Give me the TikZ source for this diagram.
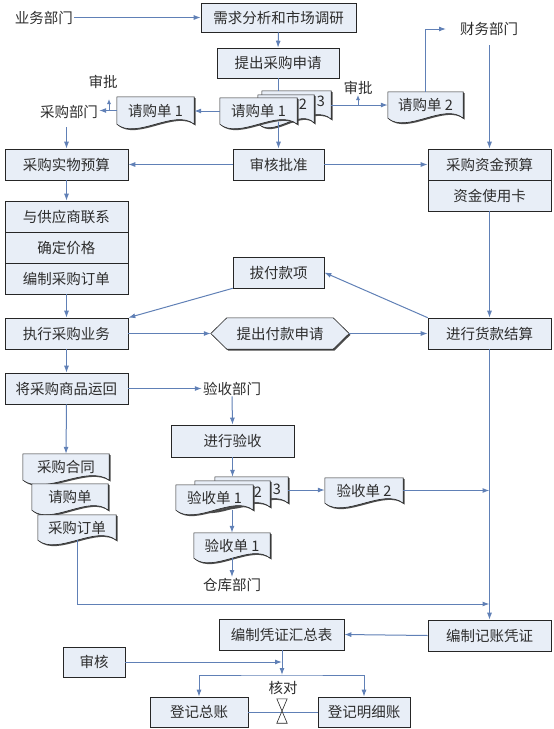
\documentclass[tikz,border=0pt]{standalone}
\usepackage{fontspec}
\setmainfont{Noto Sans CJK SC}
\usetikzlibrary{arrows.meta,shadows,calc}
\pgfdeclarelayer{bg}
\pgfsetlayers{bg,main}
\definecolor{boxfill}{RGB}{232,238,247}
\definecolor{lc}{RGB}{96,128,182}
\definecolor{txt}{RGB}{45,45,45}
\tikzset{
 every node/.style={font=\fontsize{14.5}{17}\selectfont, text=txt},
 shad/.style={drop shadow={shadow xshift=1.3pt,shadow yshift=-1.3pt,opacity=1,fill=black!70}},
 box/.style={draw=black!85, line width=0.6pt, fill=boxfill, inner sep=0pt, shad},
 docbox/.style={inner sep=0pt, draw=none},
 docpath/.style={draw=black!85, line width=0.6pt, fill=boxfill, shad},
 lbl/.style={inner sep=1pt},
 ln/.style={draw=lc, line width=1pt},
 arr/.style={ln, -{Latex[length=7pt,width=5pt]}},
 arrs/.style={ln, -{Latex[length=5pt,width=4pt]}},
}
\newcommand\mydoc[1]{\path[docpath] (#1.north west) -- (#1.south west) .. controls ($(#1.south west)!0.5!(#1.south)+(0,16)$) and ($(#1.south)!0.5!(#1.south east)+(0,-16)$) .. (#1.south east) -- (#1.north east) -- cycle;}
\begin{document}
\begin{tikzpicture}[x=1pt,y=-1pt]
\useasboundingbox (0,0) rectangle (554,729);
% boxes and labels
\node[box, minimum width=155, minimum height=29] (xq) at (278.5,17.5) {需求分析和市场调研};
\node[lbl] (yw) at (44,17.5) {业务部门};
\node[box, minimum width=122, minimum height=30] (tc) at (278,63) {提出采购申请};
\node[docbox, minimum width=69, minimum height=28] (rq3) at (296.5,105) {};
\node[docbox, minimum width=56, minimum height=28] (rq2) at (286,109) {};
\node[docbox, minimum width=77, minimum height=26] (rq1) at (258.5,111) {请购单 1};
\node[lbl] (n2a) at (303,104) {2};
\node[lbl] (n3a) at (321,101) {3};
\node[docbox, minimum width=77, minimum height=27] (rqL) at (155.5,110.5) {请购单 1};
\node[lbl] (cgbm) at (69,112) {采购部门};
\node[lbl] (sp1) at (103,82) {审批};
\node[docbox, minimum width=75, minimum height=26] (rqR) at (425.5,105) {请购单 2};
\node[lbl] (sp2) at (358,88) {审批};
\node[lbl] (cw) at (489,29) {财务部门};
\node[box, minimum width=91, minimum height=31] (shpz) at (278.5,164.5) {审核批准};
\node[box, minimum width=123, minimum height=31] (swys) at (66.5,164.5) {采购实物预算};
\node[box, minimum width=123, minimum height=31] (zjys) at (489.5,164.5) {采购资金预算};
\node[box, minimum width=123, minimum height=31] (zjk) at (489.5,195.5) {资金使用卡};
\node[box, minimum width=123, minimum height=31] (lx) at (66.5,216.5) {与供应商联系};
\node[box, minimum width=123, minimum height=31] (qd) at (66.5,247.5) {确定价格};
\node[box, minimum width=123, minimum height=31] (bz) at (66.5,278.5) {编制采购订单};
\node[box, minimum width=91, minimum height=31] (bf) at (278.5,272.5) {拔付款项};
\node[box, minimum width=123, minimum height=31] (zx) at (66.5,333.5) {执行采购业务};
\node[docbox, minimum width=138, minimum height=31] (pay) at (280,333.5) {提出付款申请};
\node[box, minimum width=123, minimum height=31] (js) at (489.5,333.5) {进行货款结算};
\node[box, minimum width=123, minimum height=31] (yh) at (66.5,388.5) {将采购商品运回};
\node[lbl] (ysbm) at (232,388.5) {验收部门};
\node[box, minimum width=123, minimum height=32] (ys) at (232.5,441) {进行验收};
\node[docbox, minimum width=86, minimum height=26] (ht) at (66,467) {采购合同};
\node[docbox, minimum width=76, minimum height=26] (qg) at (70,497) {请购单};
\node[docbox, minimum width=78, minimum height=25] (dd) at (77,527.5) {采购订单};
\node[docbox, minimum width=73, minimum height=26] (ys3) at (251.5,490) {};
\node[docbox, minimum width=75, minimum height=26] (ys2) at (232.5,494) {};
\node[docbox, minimum width=77, minimum height=25] (ys1) at (214.5,497.5) {验收单 1};
\node[lbl] (n2b) at (258,492) {2};
\node[lbl] (n3b) at (277,489) {3};
\node[docbox, minimum width=76, minimum height=25] (ysd1) at (232,545.5) {验收单 1};
\node[lbl] (ck) at (232,585) {仓库部门};
\node[docbox, minimum width=78, minimum height=25] (ysd2) at (364,490.5) {验收单 2};
\node[box, minimum width=123, minimum height=31] (jzpz) at (489.5,635.5) {编制记账凭证};
\node[box, minimum width=125, minimum height=31] (hzb) at (281.5,634.5) {编制凭证汇总表};
\node[box, minimum width=62, minimum height=30] (sh) at (94,662) {审核};
\node[box, minimum width=98, minimum height=30] (zz) at (199,712) {登记总账};
\node[box, minimum width=92, minimum height=30] (mx) at (364,712) {登记明细账};
\node[lbl] (hd) at (283,688) {核对};
\node[docbox, minimum width=10, minimum height=24] (hg) at (282,711) {};
% document shapes
\begin{pgfonlayer}{bg}
\mydoc{rq3}\mydoc{rq2}\mydoc{rq1}\mydoc{rqL}\mydoc{rqR}
\mydoc{ht}\mydoc{qg}\mydoc{dd}
\mydoc{ys3}\mydoc{ys2}\mydoc{ys1}\mydoc{ysd1}\mydoc{ysd2}
\path[docpath] (pay.west) -- ($(pay.north west)+(16,0)$) -- ($(pay.north east)+(-16,0)$) -- (pay.east) -- ($(pay.south east)+(-16,0)$) -- ($(pay.south west)+(16,0)$) -- cycle;
\end{pgfonlayer}
% connectors
\coordinate (u1) at (109,99);
\coordinate (u2) at (358,95);
\coordinate (cwp) at (446,29);
\coordinate (cwb) at (489.5,45);
\coordinate (cgb) at (66.5,127);
\coordinate (m1) at (489.5,604);
\coordinate (j) at (282,675);
\draw[arr] (yw.east) -- (xq.west);
\draw[arr] (xq.south) -- (tc.north);
\draw[ln] (tc.south) -- (tc.south |- rq3.north);
\draw[arr] (rq1.west) -- (rq1.west -| rqL.east);
\draw[arr] (rqL.west) -- (rqL.west -| cgbm.east);
\draw[arrs] (u1 |- rqL.west) -- (u1);
\draw[arr] (rq3.east) -- (rq3.east -| rqR.west);
\draw[arrs] (u2 |- rq3.east) -- (u2);
\draw[arr] (rqR.north) |- (cwp);
\draw[arr] (cwb) -- (zjys.north);
\draw[arr] (shpz.west) -- (swys.east);
\draw[arr] (shpz.east) -- (zjys.west);
\draw[arr] ($(rq1.south -| shpz.north)+(0,-2)$) -- (shpz.north);
\draw[arr] (cgb) -- (swys.north);
\draw[arr] (swys.south) -- (lx.north);
\draw[arr] (bz.south) -- (zx.north);
\draw[arr] (zx.east) -- (pay.west);
\draw[arr] (pay.east) -- (js.west);
\draw[arr] (zjk.south) -- (js.north);
\draw[arr] (js.north west) -- (bf.east);
\draw[arr] (bf.south west) -- (zx.north east);
\draw[arr] (zx.south) -- (yh.north);
\draw[arr] (yh.east) -- (ysbm.west);
\draw[arr] (ysbm.south) -- (ys.north);
\draw[arr] (yh.south) -- (ht.north);
\draw[arr] (ys.south) -- (ys.south |- ys3.north);
\draw[arr] (ys1.south -| ysd1.north) -- (ysd1.north);
\draw[arr] (ysd1.south) -- (ck.north);
\draw[arr] (ys3.east) -- (ys3.east -| ysd2.west);
\draw[arr] (ysd2.east) -- (ysd2.east -| js.south);
\draw[arr] (js.south) -- (jzpz.north);
\draw[arr] (dd.south) |- (m1);
\draw[arr] (jzpz.west) -- (hzb.east);
\draw[arr] (hzb.south -| j) -- (j);
\draw[arr] (sh.east) -- (sh.east -| j);
\draw[ln, {Latex[length=7pt,width=5pt]}-{Latex[length=7pt,width=5pt]}] (zz.north) |- (j) -| (mx.north);
\draw[ln] (zz.east) -- (mx.west);
\draw[black!85, line width=0.6pt, fill=white] (hg.north west) -- (hg.north east) -- (hg.south west) -- (hg.south east) -- cycle;
\end{tikzpicture}
\end{document}
